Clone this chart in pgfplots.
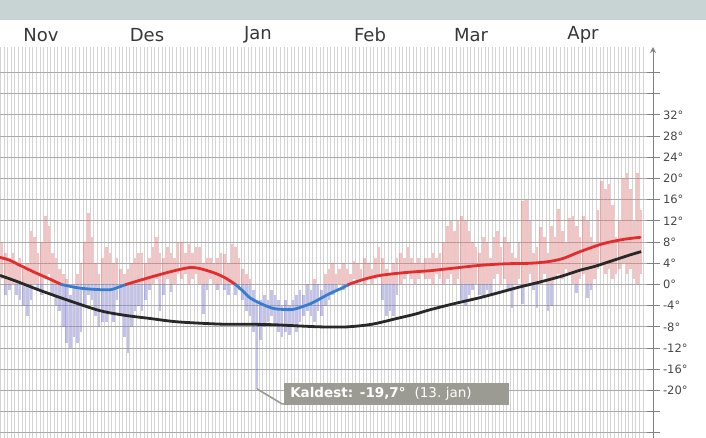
\documentclass[border=0pt]{standalone}
\usepackage{pgfplots}
\pgfplotsset{compat=1.18}
\usepackage{pgfplotstable}
\usepackage{fontspec}
\setmainfont{DejaVu Sans}
\usetikzlibrary{arrows.meta}

\definecolor{band}{RGB}{200,212,212}
\definecolor{vgrid}{RGB}{212,212,212}
\definecolor{hgrid}{RGB}{170,170,170}
\definecolor{zeroline}{RGB}{95,95,95}
\definecolor{axisgray}{RGB}{130,130,130}
\definecolor{labelgray}{RGB}{70,70,70}
\definecolor{monthgray}{RGB}{55,55,55}
\definecolor{barred}{RGB}{238,110,110}
\definecolor{barblue}{RGB}{120,120,215}
\definecolor{linered}{RGB}{225,45,45}
\definecolor{lineblue}{RGB}{55,125,205}
\definecolor{linenormal}{RGB}{40,40,40}
\definecolor{boxgray}{RGB}{155,155,148}

% daily min (lo) and max (hi) temperature, day 1 = 1 Nov
\pgfplotstableread{
d lo hi
1 -1 7
2 1 8
3 -2 6
4 -1 5
5 0 6
6 -2 4
7 -3 5
8 -4 3
9 -6 4
10 -3 10
11 0 9
12 -1 6
13 -2 8
14 1 13
15 2 11
16 -2 6
17 -4 5
18 -5 3
19 -8 2
20 -11 1
21 -12 -2
22 -10 0
23 -11 2
24 -9 4
25 -4 8
26 -2 13.4
27 -3 9
28 -6 4
29 -8 2
30 -7 5
31 -7 7
32 -5 6
33 -7 4
34 -3 5
35 -6 3
36 -10 2
37 -13 3
38 -8 4
39 -5 5
40 -4 6
41 -5 6
42 -3 4
43 -1 5
44 0 7
45 1 9
46 -5 6
47 -2 5
48 1 7
49 -1.5 6
50 0 5
51 2 8
52 1 8
53 2 6
54 0 7.7
55 1 6
56 2 7
57 0 7
58 -5.5 4
59 -1 5
60 1 5
61 0 4
62 -1 5
63 0 6
64 -1 5.8
65 -2 4
66 0 7.7
67 -2 7
68 -1 5
69 -3 3
70 -5 2
71 -6 1
72 -9 -1
73 -19.7 -3
74 -10.5 -3
75 -8 -2
76 -7 -3
77 -6 -1
78 -8 -2
79 -9 -3
80 -10 -4
81 -9 -3
82 -9.5 -4
83 -8 -3
84 -9 -2
85 -7 -1
86 -6 -2
87 -5 0
88 -6 -1
89 -7 1
90 -5 0
91 -6 -1
92 -4 2
93 -3 3
94 -2 4
95 -1 2
96 0 3
97 -1 4
98 0 3
99 0 2
100 1 4.5
101 0 4
102 1 3
103 0 5
104 1 4
105 0 3
106 1 5
107 2 7
108 -3 5
109 -6 3
110 -5 2
111 -6 4
112 -2 5
113 0 6
114 1 5
115 2 7
116 1 5
117 0 4
118 1 5
119 2 4
120 1 5
121 1 5
122 0 6
123 2 5
124 1 6
125 0 8
126 1 11
127 2 12
128 0 10
129 1 12
130 -3 13
131 -4 12
132 -2 10
133 -1 8
134 0 7
135 -2 6
136 -2.5 9
137 -1 8
138 -2 5
139 1 9
140 2 10
141 0 7
142 1 9
143 -1 8
144 -4.5 6
145 0 5
146 1 8
147 -3.6 15.8
148 0 16
149 2 12
150 -1 6
151 -4.5 7
152 0 10.8
153 2 9
154 -5 6
155 -4 11
156 1 9
157 2 14.3
158 1 10
159 3 8
160 2 12.6
161 0 13
162 -1.7 11
163 1 9
164 2 13
165 -2.6 12
166 -1 9
167 1 8
168 3 14
169 4 19.6
170 2 18
171 3 19
172 1 15
173 2 9
174 3 12
175 4 20
176 2 21
177 3 18
178 1 12
179 0 21
180 2 14
}\temps

\begin{document}
\begin{tikzpicture}
\fill[band] (0pt,418pt) rectangle (706pt,438pt);
\begin{axis}[
  at={(0pt,0pt)}, anchor=south west, scale only axis,
  width=653pt, height=391pt,
  xmin=1.393, xmax=183.29, ymin=-28.96, ymax=44.8,
  axis y line=right, axis x line=bottom,
  x axis line style={draw=none},
  y axis line style={draw=axisgray, line width=1pt, -{Stealth[length=6pt,width=6pt]}},
  xtick={1.5,2.5,...,180.5}, xticklabel=\empty,
  xtick style={draw=none},
  xmajorgrids, ymajorgrids,
  major x grid style={draw=vgrid, line width=0.7pt},
  major y grid style={draw=hgrid, line width=0.9pt},
  ytick={-28,-24,...,40},
  yticklabels={{},{},-20°,-16°,-12°,-8°,-4°,0°,4°,8°,12°,16°,20°,24°,28°,32°,{},{}},
  ytick style={draw=axisgray, line width=1pt},
  tick align=center, major tick length=13pt,
  yticklabel style={font=\fontsize{11.5}{13}\selectfont, text=labelgray, anchor=west},
  extra y ticks={0}, extra y tick labels={},
  extra y tick style={major grid style={draw=zeroline, line width=1.2pt}},
  clip=false,
]
% red parts of daily ranges (above 0)
\addplot[draw=none, mark=none, forget plot,
  error bars/.cd, y dir=minus, y explicit, error mark=none,
  error bar style={draw=barred, line width=2.6pt, line cap=butt, opacity=0.42}]
  table[x=d, y expr={max(\thisrow{hi},0)},
        y error minus expr={max(\thisrow{hi},0)-max(\thisrow{lo},0)}] {\temps};
% blue parts of daily ranges (below 0)
\addplot[draw=none, mark=none, forget plot,
  error bars/.cd, y dir=minus, y explicit, error mark=none,
  error bar style={draw=barblue, line width=2.6pt, line cap=butt, opacity=0.45}]
  table[x=d, y expr={min(\thisrow{hi},0)},
        y error minus expr={min(\thisrow{hi},0)-min(\thisrow{lo},0)}] {\temps};

% normal temperature
\addplot[linenormal, line width=2.8pt, smooth] coordinates {
(1.4,1.7) (6,0.6) (12.5,-1.1) (20,-2.9) (29,-4.9) (36,-5.8) (43,-6.4) (50,-7.0)
(57,-7.3) (64,-7.5) (71,-7.5) (78,-7.6) (84,-7.8) (91,-8.0) (98,-8.0) (105,-7.5)
(112,-6.4) (117,-5.6) (121,-4.8) (128,-3.6) (135,-2.5) (140,-1.6) (146,-0.5)
(152,0.5) (158,1.6) (163,2.7) (167,3.4) (172,4.5) (177,5.6) (180,6.2)};

% smoothed mean temperature
\addplot[linered, line width=2.8pt, smooth, line cap=round] coordinates {
(1.4,5.1) (4,4.6) (7,3.6) (11,2.3) (15,1.1) (18.5,0)};
\addplot[lineblue, line width=2.8pt, smooth, line cap=round] coordinates {
(18.5,0) (22.8,-0.6) (27,-0.9) (32,-1.0) (34,-0.6) (36.5,0)};
\addplot[linered, line width=2.8pt, smooth, line cap=round] coordinates {
(36.5,0) (40.4,0.8) (45,1.7) (50,2.6) (54.3,3.2) (57.1,3.0) (61,2.2) (64,1.3) (67,0)};
\addplot[lineblue, line width=2.8pt, smooth, line cap=round] coordinates {
(67,0) (69,-1.2) (71,-2.5) (74,-3.6) (77.4,-4.5) (80,-4.7) (83,-4.7) (86,-4.1)
(88.6,-3.4) (93,-1.8) (96.9,-0.6) (98.5,0)};
\addplot[linered, line width=2.8pt, smooth, line cap=round] coordinates {
(98.5,0) (101,0.6) (104,1.2) (107.2,1.7) (112,2.1) (117,2.4) (121.2,2.6) (128,3.1)
(135,3.6) (142,3.9) (149,4.0) (154,4.3) (158.2,4.9) (163,6.2) (169.4,7.7) (175,8.5) (179.7,8.9)};

% annotation of the coldest day
\draw[boxgray, line width=1.6pt] (axis cs:73,-19.7) -- ++(25pt,-15pt) -- ++(3pt,0pt);
\node[fill=boxgray, text=white, anchor=south west, inner xsep=6pt, inner ysep=0pt,
      text width=213pt, minimum height=22pt, align=left,
      font=\fontsize{13.5}{15}\selectfont]
  at ([xshift=27pt,yshift=-16pt]axis cs:73,-19.7)
  {\textbf{Kaldest: -19,7°}\ \ (13.~jan)};
\end{axis}
% month labels
\begin{scope}[every node/.style={text=monthgray, font=\fontsize{18}{20}\selectfont}]
\node at (41pt,403pt) {Nov};
\node at (147pt,403pt) {Des};
\node at (258pt,403pt) {Jan};
\node at (370pt,403pt) {Feb};
\node at (471pt,403pt) {Mar};
\node at (583pt,403pt) {Apr};
\end{scope}
\pgfresetboundingbox
\path[use as bounding box] (0pt,0pt) rectangle (706pt,438pt);
\end{tikzpicture}
\end{document}
